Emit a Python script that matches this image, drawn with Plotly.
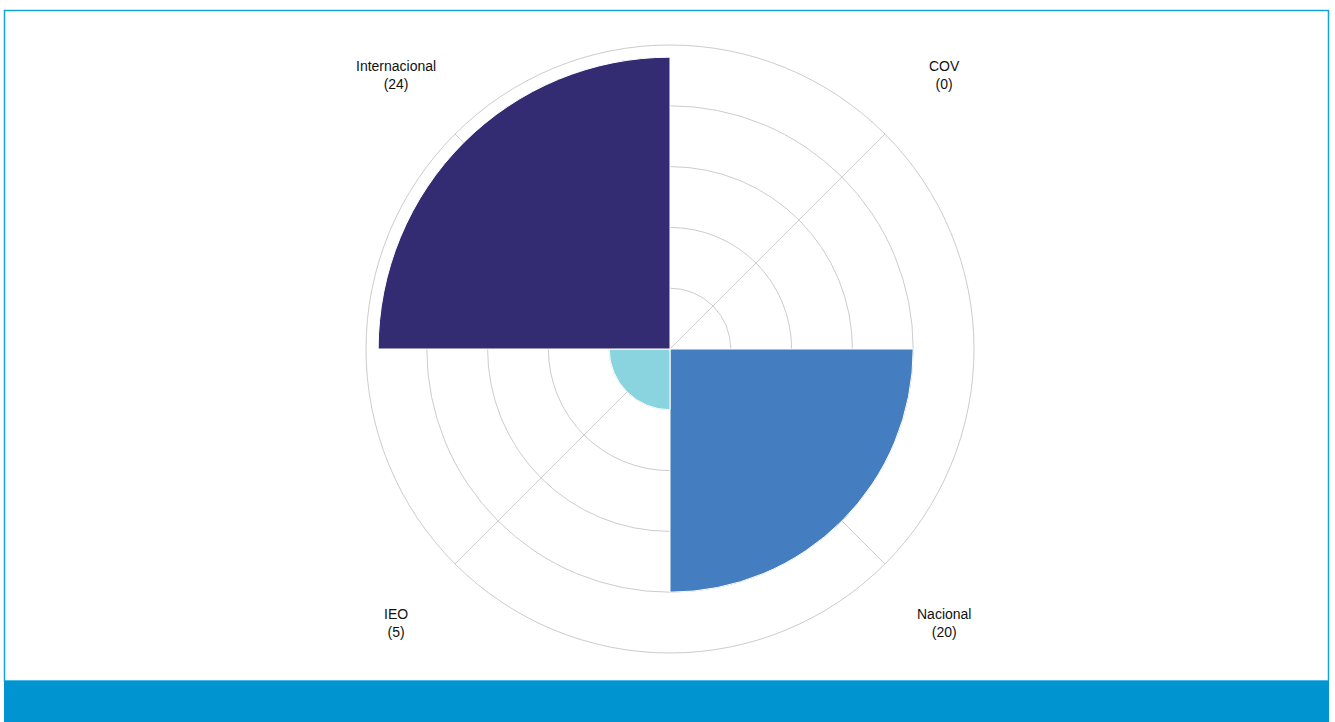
import math
import plotly.graph_objects as go

# Publications by scope
categories = ["COV", "Nacional", "IEO", "Internacional"]
values = [0, 20, 5, 24]
angles = [45, 315, 225, 135]  # compass position of each category (counter-clockwise from east)
colors = ["#8FD3DE", "#457EC0", "#8AD4DF", "#332C72"]
labels = [f"{c}<br>({v})" for c, v in zip(categories, values)]

W, H = 1335, 722
cx, cy, R = 670, 349, 304  # plot circle centre and radius in pixels
label_dist = 388           # distance of the captions from the centre, pixels

fig = go.Figure()

fig.add_trace(go.Barpolar(
    r=values,
    theta=categories,
    marker=dict(color=colors, line=dict(color="white", width=1)),
    hoverinfo="theta+r",
))

annotations = []
for text, ang in zip(labels, angles):
    px = cx + label_dist * math.cos(math.radians(ang))
    py = cy - label_dist * math.sin(math.radians(ang))
    annotations.append(dict(
        x=px / W, y=(H - py) / H, xref="paper", yref="paper",
        text=text, showarrow=False, xanchor="center", yanchor="middle",
        font=dict(family="Liberation Sans, Arial, sans-serif", size=14, color="#111111"),
    ))

fig.update_layout(
    width=W, height=H,
    margin=dict(l=0, r=0, t=0, b=0),
    paper_bgcolor="white",
    showlegend=False,
    annotations=annotations,
    polar=dict(
        domain=dict(x=[(cx - R) / W, (cx + R) / W],
                    y=[(H - cy - R) / H, (H - cy + R) / H]),
        bgcolor="white",
        bargap=0,
        radialaxis=dict(range=[0, 25], tickvals=[5, 10, 15, 20, 25],
                        showticklabels=False, ticks="", showline=False,
                        gridcolor="#cccccc", gridwidth=1),
        angularaxis=dict(direction="clockwise", rotation=45,
                         showticklabels=False, ticks="",
                         showline=True, linecolor="#cccccc", linewidth=1,
                         gridcolor="#cccccc", gridwidth=1),
    ),
    shapes=[
        dict(type="rect", xref="paper", yref="paper",
             x0=4.5 / W, x1=1328.5 / W, y0=(H - 681) / H, y1=(H - 10.5) / H,
             line=dict(color="#12A2DD", width=1.5), fillcolor="rgba(0,0,0,0)", layer="below"),
        dict(type="rect", xref="paper", yref="paper",
             x0=4 / W, x1=1329 / W, y0=0, y1=(H - 681) / H,
             line=dict(width=0), fillcolor="#0094D1", layer="below"),
    ],
)

fig.write_html("out.html")
